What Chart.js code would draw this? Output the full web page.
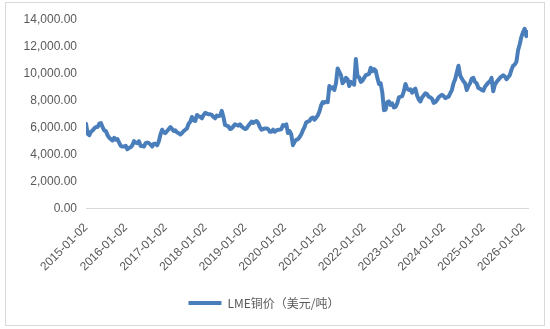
<!DOCTYPE html>
<html>
<head>
<meta charset="utf-8">
<script src="https://cdn.jsdelivr.net/npm/chart.js@4.4.1/dist/chart.umd.min.js"></script>
<style>
  body { margin: 0; background: #fff; }
  #wrap { position: relative; width: 550px; height: 329px; }
  #frame {
    position: absolute; left: 5px; top: 2px; width: 538px; height: 322px;
    border: 1px solid #d9d9d9; pointer-events: none;
  }
</style>
</head>
<body>
<div id="wrap">
  <canvas id="copperChart" width="550" height="329"></canvas>
  <div id="frame"></div>
</div>
<script>
/* ========= DATA: LME copper, two readings per month (1st, 16th) ========= */

const seriesName = "LME铜价（美元/吨）";

const tickYears = [2015, 2016, 2017, 2018, 2019, 2020, 2021, 2022, 2023, 2024, 2025, 2026];
const yTicks = [0, 2000, 4000, 6000, 8000, 10000, 12000, 14000];

const price2015 = [6300, 5550, 5450, 5700, 5800, 5950, 6050, 6050, 6300, 6350, 6050, 5800,
                   5750, 5450, 5250, 5150, 5050, 5250, 5100, 5150, 4900, 4650, 4600, 4600];
const price2016 = [4650, 4400, 4500, 4550, 4700, 5000, 4900, 4850, 5000, 4650, 4650, 4600,
                   4850, 4900, 4850, 4750, 4600, 4800, 4800, 4700, 5000, 5500, 5850, 5650];
const price2017 = [5600, 5750, 5900, 6050, 5900, 5750, 5800, 5650, 5600, 5500, 5600, 5750,
                   5850, 5950, 6300, 6450, 6800, 6550, 6500, 6950, 6850, 6800, 6700, 6950];
const price2018 = [7100, 7050, 7000, 7000, 6950, 6800, 6700, 6900, 6850, 6900, 7250, 6800,
                   6200, 6150, 6100, 5900, 5950, 6100, 6250, 6200, 6150, 6250, 6100, 6000];
const price2019 = [5900, 5950, 6150, 6300, 6450, 6350, 6450, 6500, 6350, 6050, 5850, 5900,
                   5950, 5950, 5900, 5700, 5700, 5850, 5700, 5800, 5850, 5850, 5900, 6200];
const price2020 = [6150, 6250, 5600, 5750, 5500, 4700, 4950, 5100, 5150, 5300, 5500, 5800,
                   6050, 6400, 6450, 6500, 6700, 6750, 6600, 6750, 6900, 7200, 7650, 7900];
const price2021 = [7850, 7950, 7900, 9100, 8900, 9000, 8800, 9300, 10400, 10150, 9900, 9300,
                   9450, 9700, 9600, 9100, 9400, 9300, 9200, 11100, 9800, 9750, 9400, 9500];
const price2022 = [9700, 9900, 9950, 10000, 10450, 10200, 10350, 10250, 9700, 9250, 9300, 8600,
                   7300, 7350, 7900, 7950, 7700, 7800, 7500, 7550, 7800, 8250, 8300, 8350];
const price2023 = [8700, 9250, 8900, 8800, 8850, 8600, 8800, 8900, 8400, 8100, 7950, 8250,
                   8400, 8550, 8500, 8300, 8250, 8150, 7850, 7900, 8050, 8250, 8350, 8450];
const price2024 = [8350, 8200, 8250, 8300, 8550, 8800, 9300, 9600, 10100, 10600, 9900, 9650,
                   9450, 9300, 8800, 9100, 9300, 9650, 9700, 9400, 9300, 8950, 8900, 8800];
const price2025 = [8750, 9050, 9200, 9350, 9450, 9700, 8700, 9200, 9400, 9550, 9700, 9800,
                   9900, 9800, 9600, 9750, 9900, 10300, 10600, 10700, 10900, 11750, 12200, 12750];
const price2026 = [13100, 13350, 12800, 13100];

const yearlyPrices = [price2015, price2016, price2017, price2018, price2019, price2020,
                      price2021, price2022, price2023, price2024, price2025, price2026];

/* ========= BUILD POINTS ========= */

const points = [];
yearlyPrices.forEach((list, i) => {
    list.forEach((v, k) => {
        points.push({ x: tickYears[i] + k / 24, y: v });
    });
});

const textColor = "#595959";
const lineBlue = "#4a7ebb";

new Chart(document.getElementById("copperChart"), {

    type: "line",

    data: {
        datasets: [{
            label: seriesName,
            data: points,
            borderColor: lineBlue,
            backgroundColor: lineBlue,
            borderWidth: 4,
            pointRadius: 0,
            tension: 0,
            borderJoinStyle: "round",
            borderCapStyle: "round"
        }]
    },

    options: {
        responsive: false,
        animation: false,
        layout: {
            padding: { left: 0, right: 22, top: 20, bottom: 10 }
        },
        plugins: {
            tooltip: { enabled: false },
            legend: {
                position: "bottom",
                labels: {
                    boxWidth: 33,
                    boxHeight: 4,
                    padding: 10,
                    color: textColor,
                    font: { family: "'Noto Sans CJK SC', 'Liberation Sans', sans-serif", size: 12 },
                    generateLabels: chart => {
                        const items = Chart.defaults.plugins.legend.labels.generateLabels(chart);
                        items.forEach(it => { it.lineWidth = 0; });
                        return items;
                    }
                }
            }
        },
        scales: {
            x: {
                type: "linear",
                min: tickYears[0],
                max: points[points.length - 1].x,
                afterBuildTicks: s => {
                    s.ticks = tickYears.map(v => ({ value: v }));
                },
                afterFit: s => { s.height = 78.5; },
                grid: { display: false, drawTicks: false },
                border: { display: true, color: "#d9d9d9", width: 1 },
                ticks: {
                    autoSkip: false,
                    maxRotation: 45,
                    minRotation: 45,
                    padding: 12,
                    color: textColor,
                    font: { family: "'Liberation Sans', Arial, sans-serif", size: 12 },
                    callback: v => v + "-01-02"
                }
            },
            y: {
                min: 0,
                max: 14000,
                afterBuildTicks: s => {
                    s.ticks = yTicks.map(v => ({ value: v }));
                },
                afterFit: s => { s.width = 86; },
                grid: { display: false, drawTicks: false },
                border: { display: false },
                ticks: {
                    padding: 9,
                    color: textColor,
                    font: { family: "'Liberation Sans', Arial, sans-serif", size: 12 },
                    callback: v => v.toLocaleString("en-US", {
                        minimumFractionDigits: 2,
                        maximumFractionDigits: 2
                    })
                }
            }
        }
    }
});
</script>
</body>
</html>
